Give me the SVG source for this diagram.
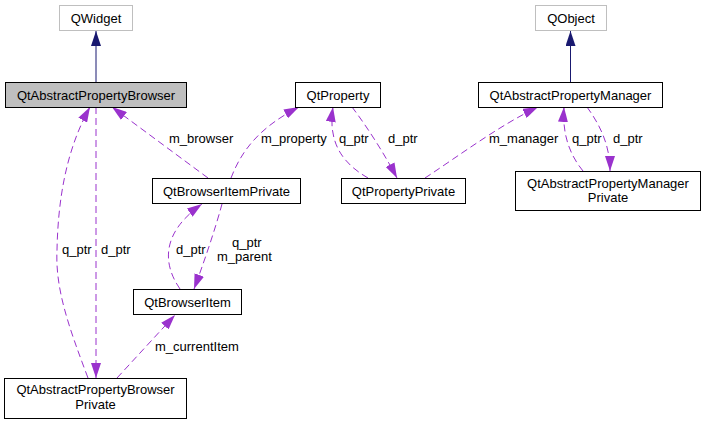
<svg xmlns="http://www.w3.org/2000/svg" width="705" height="425" viewBox="0 0 705 425">
<style>
text{font-family:"Liberation Sans",Arial,sans-serif;font-size:13px;fill:#000}
.n text{text-anchor:middle}
.box{fill:#fff;stroke:#000;stroke-width:1}
.ext{fill:#fff;stroke:#bfbfbf;stroke-width:1}
.cur{fill:#bfbfbf;stroke:#000;stroke-width:1}
.inh{fill:none;stroke:#191970;stroke-width:1}
.use{fill:none;stroke:#9a32cd;stroke-width:1;stroke-dasharray:7,4}
</style>
<defs>
<marker id="ai" markerUnits="userSpaceOnUse" markerWidth="15" markerHeight="10" refX="15" refY="5" orient="auto"><path d="M0,0 L15,5 L0,10 z" fill="#191970"/></marker>
<marker id="au" markerUnits="userSpaceOnUse" markerWidth="15" markerHeight="10" refX="15" refY="5" orient="auto"><path d="M0,0 L15,5 L0,10 z" fill="#9a32cd"/></marker>
</defs>
<rect width="705" height="425" fill="#fff"/>
<g id="edges">
<path class="inh" d="M96,82 L96,31" marker-end="url(#ai)"/>
<path class="inh" d="M570.5,82 L570.5,31" marker-end="url(#ai)"/>
<path class="use" d="M88,378 C70,330 55,290 57,250 C58,200 66,150 90,107" marker-end="url(#au)"/>
<path class="use" d="M96,107 L96,378" marker-end="url(#au)"/>
<path class="use" d="M208,178 L112,107" marker-end="url(#au)"/>
<path class="use" d="M231,178 C241,152 258,128 299,107" marker-end="url(#au)"/>
<path class="use" d="M368,178 C340,162 328,140 333,107" marker-end="url(#au)"/>
<path class="use" d="M352,107 C368,128 385,155 397,178" marker-end="url(#au)"/>
<path class="use" d="M425,178 C460,155 500,125 538,107" marker-end="url(#au)"/>
<path class="use" d="M583,171 C570,155 562,135 564,107" marker-end="url(#au)"/>
<path class="use" d="M587,107 C600,125 610,145 610,171" marker-end="url(#au)"/>
<path class="use" d="M180,289 C160,260 165,230 202,204" marker-end="url(#au)"/>
<path class="use" d="M222,204 C215,230 203,265 194,289" marker-end="url(#au)"/>
<path class="use" d="M117,378 L175,315" marker-end="url(#au)"/>
<text x="62" y="254">q_ptr</text>
<text x="101" y="254">d_ptr</text>
<text x="169" y="143">m_browser</text>
<text x="261" y="143">m_property</text>
<text x="339" y="143">q_ptr</text>
<text x="388" y="143">d_ptr</text>
<text x="489" y="143">m_manager</text>
<text x="572" y="143">q_ptr</text>
<text x="613" y="143">d_ptr</text>
<text x="176" y="254">d_ptr</text>
<text x="232" y="247">q_ptr</text>
<text x="217" y="261">m_parent</text>
<text x="155" y="351">m_currentItem</text>
</g>
<g id="QWidget" class="n"><rect class="ext" x="59.5" y="5.5" width="73" height="25"/><text x="96" y="22.5">QWidget</text></g>
<g id="QtAbstractPropertyBrowser" class="n"><rect class="cur" x="5.5" y="82.5" width="181" height="25"/><text x="96" y="99.5">QtAbstractPropertyBrowser</text></g>
<g id="QtProperty" class="n"><rect class="box" x="295.5" y="82.5" width="85" height="25"/><text x="338" y="99.5">QtProperty</text></g>
<g id="QObject" class="n"><rect class="ext" x="535.5" y="5.5" width="71" height="25"/><text x="571" y="22.5">QObject</text></g>
<g id="QtAbstractPropertyManager" class="n"><rect class="box" x="478.5" y="82.5" width="184" height="25"/><text x="570.5" y="99.5">QtAbstractPropertyManager</text></g>
<g id="QtAbstractPropertyManagerPrivate" class="n"><rect class="box" x="515.5" y="171.5" width="185" height="39"/><text x="608" y="188">QtAbstractPropertyManager</text><text x="608" y="202">Private</text></g>
<g id="QtPropertyPrivate" class="n"><rect class="box" x="341.5" y="178.5" width="124" height="25"/><text x="403.5" y="195.5">QtPropertyPrivate</text></g>
<g id="QtBrowserItemPrivate" class="n"><rect class="box" x="152.5" y="178.5" width="148" height="25"/><text x="226.5" y="195.5">QtBrowserItemPrivate</text></g>
<g id="QtBrowserItem" class="n"><rect class="box" x="133.5" y="289.5" width="108" height="25"/><text x="187.5" y="306.5">QtBrowserItem</text></g>
<g id="QtAbstractPropertyBrowserPrivate" class="n"><rect class="box" x="4.5" y="378.5" width="182" height="40"/><text x="95.5" y="394">QtAbstractPropertyBrowser</text><text x="95.5" y="408.5">Private</text></g>
</svg>
